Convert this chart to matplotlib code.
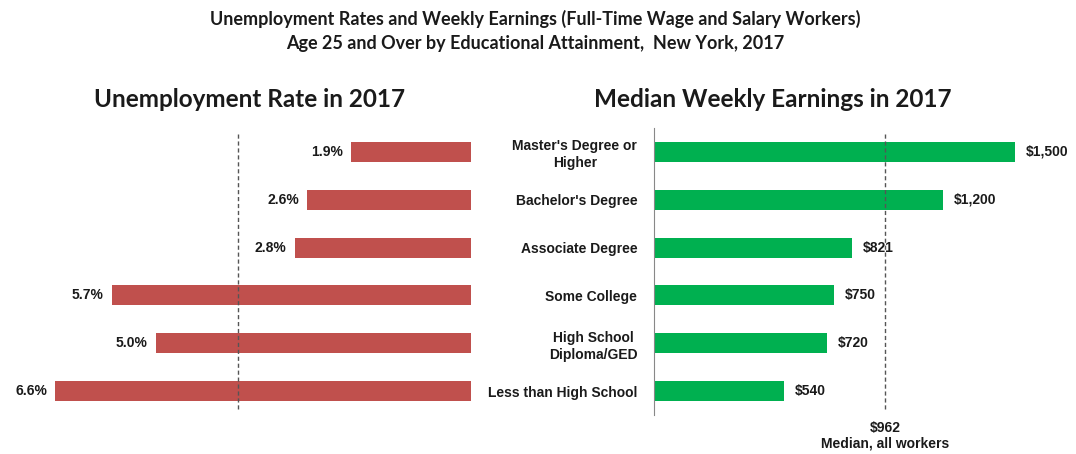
import numpy as np
import matplotlib.pyplot as plt

# data
categories = ["Master's Degree or\nHigher", "Bachelor's Degree", "Associate Degree",
              "Some College", "High School\nDiploma/GED", "Less than High School"]
unemployment = [1.9, 2.6, 2.8, 5.7, 5.0, 6.6]
earnings = [1500, 1200, 821, 750, 720, 540]
unemp_all = 3.7
earn_median = 962

red = '#C0504D'
green = '#00B050'
label_font = 'Liberation Sans'
head_font = 'Lato'
lsize = 10

fig = plt.figure(figsize=(10.76, 4.54), dpi=100)
y = np.arange(len(categories))

fig.text(0.497, 0.958, "Unemployment Rates and Weekly Earnings (Full-Time Wage and Salary Workers)",
         ha='center', va='center', fontsize=13, fontweight='bold', family=head_font, color='#1a1a1a')
fig.text(0.497, 0.905, "Age 25 and Over by Educational Attainment,  New York, 2017",
         ha='center', va='center', fontsize=13, fontweight='bold', family=head_font, color='#1a1a1a')

# left: unemployment rate, bars grow to the left
ax1 = fig.add_axes([30 / 1076, 1 - 415 / 454, 441 / 1076, 287 / 454])
ax1.barh(y, unemployment, height=0.42, color=red)
ax1.set_xlim(7, 0)
ax1.set_ylim(5.5, -0.5)
ax1.axvline(unemp_all, ymin=0.02, ymax=0.98, color='#555555', lw=1, ls=(0, (3, 2)))
for yi, v in zip(y, unemployment):
    ax1.text(v + 0.13, yi, f"{v:.1f}%", ha='right', va='center', fontsize=lsize,
             fontweight='bold', family=label_font, color='#1a1a1a')
ax1.axis('off')
fig.text(250 / 1076, 1 - 100 / 454, "Unemployment Rate in 2017", ha='center', va='center',
         fontsize=17.5, fontweight='bold', family=head_font, color='#1a1a1a')

# right: median weekly earnings
ax2 = fig.add_axes([654 / 1076, 1 - 415 / 454, 409 / 1076, 287 / 454])
ax2.barh(y, earnings, height=0.42, color=green)
ax2.set_xlim(0, 1700)
ax2.set_ylim(5.5, -0.5)
ax2.axvline(earn_median, ymin=0.02, ymax=0.98, color='#555555', lw=1, ls=(0, (3, 2)))
for yi, v in zip(y, earnings):
    ax2.text(v + 45, yi, f"${v:,}", ha='left', va='center', fontsize=lsize,
             fontweight='bold', family=label_font, color='#1a1a1a')
ax2.set_yticks(y)
ax2.set_yticklabels(categories, fontsize=lsize, fontweight='bold', family=label_font, color='#1a1a1a')
for t in ax2.get_yticklabels():
    t.set_multialignment('center')
    t.set_linespacing(1.25)
ax2.tick_params(axis='y', length=0, pad=12)
ax2.set_xticks([])
for s in ['top', 'right', 'bottom']:
    ax2.spines[s].set_visible(False)
ax2.spines['left'].set_color('#888888')
ax2.text(earn_median, -0.045, f"${earn_median}", transform=ax2.get_xaxis_transform(),
         ha='center', va='center', fontsize=lsize, fontweight='bold', family=label_font, color='#1a1a1a')
ax2.text(earn_median, -0.10, "Median, all workers", transform=ax2.get_xaxis_transform(),
         ha='center', va='center', fontsize=lsize, fontweight='bold', family=label_font, color='#1a1a1a')
fig.text(773 / 1076, 1 - 100 / 454, "Median Weekly Earnings in 2017", ha='center', va='center',
         fontsize=17.5, fontweight='bold', family=head_font, color='#1a1a1a')

plt.savefig('out.png', dpi=100)
